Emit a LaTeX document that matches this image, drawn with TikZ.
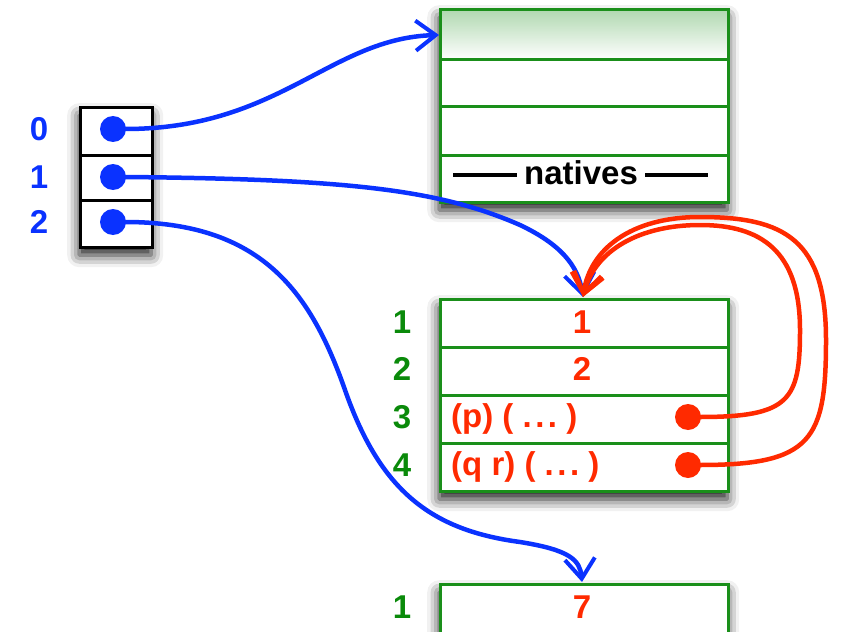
\documentclass[tikz,border=0pt]{standalone}
\usepackage{fontspec}
\setmainfont{Liberation Sans}
\usetikzlibrary{arrows.meta,shadows.blur}
\definecolor{ptrblue}{HTML}{0A32FF}
\definecolor{ptrred}{HTML}{FF2A00}
\definecolor{idxgreen}{HTML}{0A8A0A}
\definecolor{boxgreen}{HTML}{1A8F1A}
\definecolor{headgreen}{HTML}{B0D8B0}
\newcommand{\spdots}{.\kern3.5pt.\kern3.5pt.}
\begin{document}
\begin{tikzpicture}[x=1pt,y=-1pt,
  txt/.style={font=\fontsize{33}{36}\selectfont\bfseries, inner sep=0pt},
  frame/.style={draw=none, fill=white, inner sep=0pt, anchor=north west,
    blur shadow={shadow xshift=0pt, shadow yshift=-9pt, shadow blur radius=12pt, shadow opacity=90}},
  cell/.style={draw=boxgreen, line width=3pt, inner sep=0pt, anchor=north west,
    minimum width=288pt, minimum height=48pt},
  slot/.style={draw=black, line width=3pt, inner sep=0pt, anchor=north west,
    minimum width=72pt},
  dot/.style={circle, inner sep=0pt, minimum size=26pt},
  ptr/.style={line width=4.5pt, -{Straight Barb[length=20pt,width=30pt,line width=4pt]}},
]
\useasboundingbox (0,0) rectangle (842,631);

% ---- frame shadows ----
\node[frame, minimum width=72pt, minimum height=140pt] (fs) at (79,106) {};
\node[frame, minimum width=288pt, minimum height=193pt] (ft) at (439,8) {};
\node[frame, minimum width=288pt, minimum height=192pt] (fm) at (439,298) {};
\node[frame, minimum width=288pt, minimum height=60pt] (fb) at (439,583) {};

% ---- stack of slots ----
\node[slot, minimum height=48pt] (s0) at (79,106) {};
\node[slot, minimum height=45pt] (s1) at (79,154) {};
\node[slot, minimum height=47pt] (s2) at (79,199) {};
\node[txt, text=ptrblue] (l0) at (39,129) {0};
\node[txt, text=ptrblue] (l1) at (39,177) {1};
\node[txt, text=ptrblue] (l2) at (39,222) {2};
\node[dot, fill=ptrblue] (d0) at (113,129) {};
\node[dot, fill=ptrblue] (d1) at (113,177) {};
\node[dot, fill=ptrblue] (d2) at (113,222) {};

% ---- globals frame ----
\node[cell, minimum height=50pt, top color=headgreen, bottom color=white] (t0) at (439,8) {};
\node[cell, minimum height=47pt] (t1) at (439,58) {};
\node[cell, minimum height=49pt] (t2) at (439,105) {};
\node[cell, minimum height=47pt] (t3) at (439,154) {};
\node[txt] (nat) at (581,173) {natives};
\draw[line width=3.5pt] (453,175) -- (517,175);
\draw[line width=3.5pt] (645,175) -- (708,175);
\coordinate (tin) at (439,35);

% ---- middle frame ----
\node[cell] (m1) at (439,298) {};
\node[cell] (m2) at (439,346) {};
\node[cell] (m3) at (439,394) {};
\node[cell] (m4) at (439,442) {};
\foreach \i/\y in {1/322,2/369,3/417,4/465}
  \node[txt, text=idxgreen] (ml\i) at (402,\y) {\i};
\node[txt, text=ptrred] (mv1) at (582,322) {1};
\node[txt, text=ptrred] (mv2) at (582,369) {2};
\node[txt, text=ptrred, anchor=west] (mv3) at (451,419) {(p) ( \spdots\ )};
\node[txt, text=ptrred, anchor=west] (mv4) at (451,467) {(q r) ( \spdots\ )};
\node[dot, fill=ptrred] (r3) at (688,417) {};
\node[dot, fill=ptrred] (r4) at (688,465) {};
\coordinate (mtop) at (583,297);

% ---- bottom frame ----
\node[cell, minimum height=60pt] (b1) at (439,583) {};
\node[txt, text=idxgreen] (bl1) at (402,607) {1};
\node[txt, text=ptrred] (bv1) at (582,607) {7};
\coordinate (btop) at (582,582);

% ---- pointers ----
\draw[ptr, draw=ptrblue] (d0.center) ++(12,0) .. controls (280,129) and (330,38) .. (tin);
\draw[ptr, draw=ptrblue] (d1.center) ++(12,0) .. controls (350,179) and (440,190) .. (520,225)
  .. controls (560,244) and (578,265) .. (mtop);
\draw[ptr, draw=ptrblue] (d2.center) ++(12,0) .. controls (260,222) and (310,290) .. (345,390)
  .. controls (380,490) and (430,530) .. (520,542) .. controls (570,550) and (580,560) .. (btop);
\draw[ptr, draw=ptrred] (r3.center) ++(12,0) .. controls (790,417) and (800,400) .. (800,330)
  .. controls (800,250) and (760,225) .. (700,225) .. controls (640,225) and (595,250) .. (mtop);
\draw[ptr, draw=ptrred] (r4.center) ++(12,0) .. controls (812,465) and (826,440) .. (826,340)
  .. controls (826,240) and (785,217) .. (700,217) .. controls (630,217) and (590,250) .. (mtop);
\end{tikzpicture}
\end{document}
